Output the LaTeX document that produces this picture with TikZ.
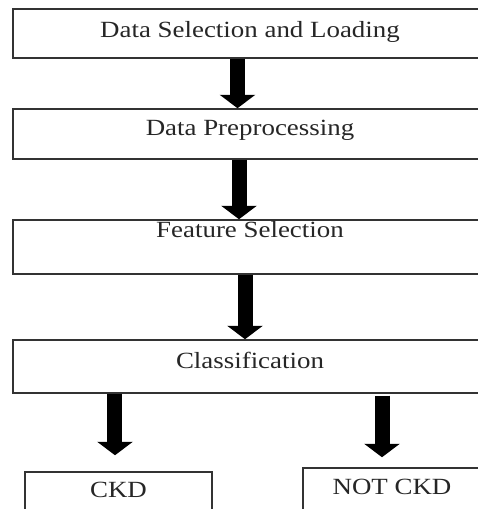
\documentclass[tikz,border=0pt]{standalone}
\usepackage{fontspec}
\setmainfont{Liberation Serif}[FakeStretch=1.16]
\usetikzlibrary{arrows.meta,calc}
\tikzset{
    stage/.style 2 args={draw=black!80, line width=0.85pt, minimum width=9.48cm,
        inner ysep=0pt, text height=#1, text depth=#2, anchor=base,
        font=\fontsize{13.2}{16}\selectfont, text=black!85},
    bigarrow/.style={line width=0.3cm, draw=black,
        -{Triangle[width=0.7cm,length=0.27cm]}}
}
\newcommand\bdraw[2]{
        \draw[bigarrow] (#1) -- (#2);
}

\begin{document}
\begin{tikzpicture}
    \useasboundingbox (0,0) rectangle (9.56,10.18);
    \clip (0,0) rectangle (9.56,10.18);

    %draws the pipeline boxes:
    \node[stage={0.574cm}{0.406cm}] (load) at (5.0,9.426) {Data Selection and Loading};
    \node[stage={0.54cm}{0.46cm}]   (prep) at (5.0,7.46)  {Data Preprocessing};
    \node[stage={0.36cm}{0.72cm}]   (feat) at (5.0,5.42)  {Feature Selection};
    \node[stage={0.58cm}{0.48cm}]   (clf)  at (5.0,2.80)  {Classification};

    %draws the two outcome boxes:
    \node[stage={0.5cm}{0.46cm}, minimum width=3.74cm]  (ckd)    at (2.37,0.24) {CKD};
    \node[stage={0.52cm}{0.5cm}, minimum width=3.56cm]  (notckd) at (7.84,0.30) {NOT CKD};

    %draws the arrows between them:
    \bdraw{[xshift=-0.25cm]load.south}{[xshift=-0.25cm]prep.north}
    \bdraw{[xshift=-0.22cm]prep.south}{[xshift=-0.22cm]feat.north}
    \bdraw{[xshift=-0.1cm]feat.south}{[xshift=-0.1cm]clf.north}

    \bdraw{$(clf.south -| ckd.north)+(-0.07,0)$}{$(ckd.north)+(-0.07,0.32)$}
    \bdraw{$(clf.south -| notckd.north)+(-0.2,-0.04)$}{$(notckd.north)+(-0.2,0.2)$}

\end{tikzpicture}
\end{document}
